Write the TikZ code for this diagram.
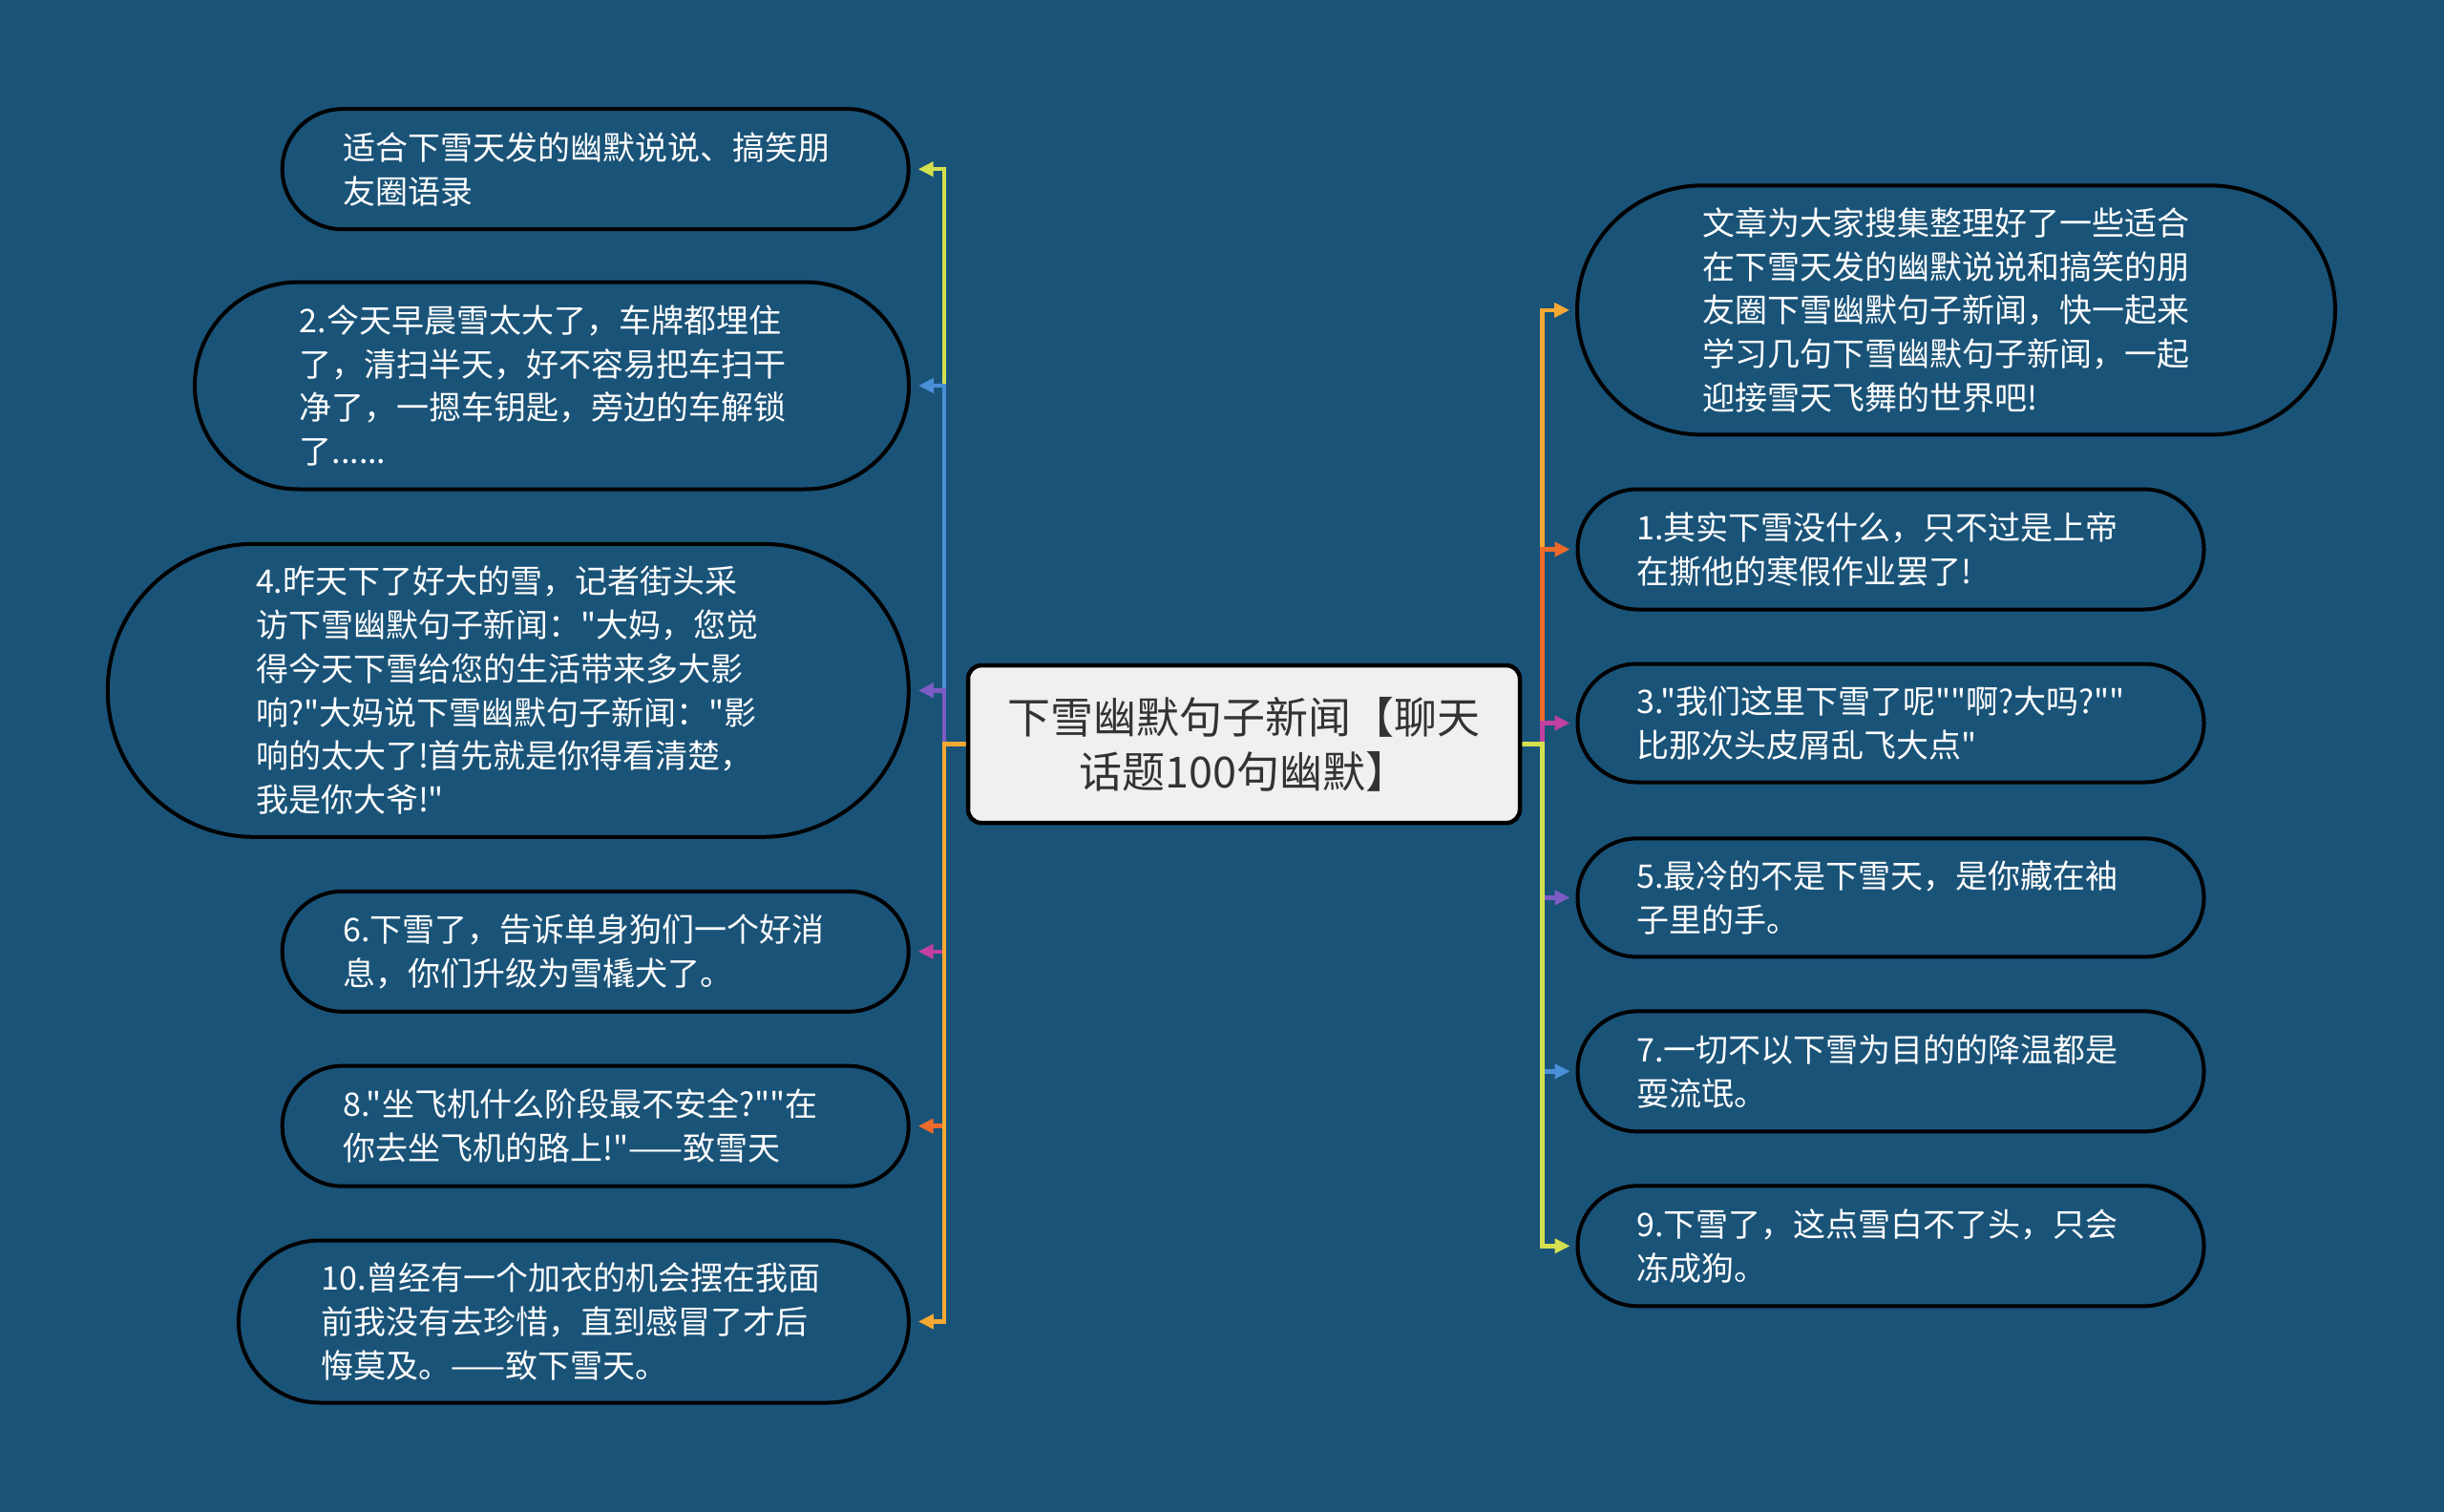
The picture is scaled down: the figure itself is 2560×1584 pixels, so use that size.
\documentclass[tikz,border=0pt]{standalone}
\usepackage{fontspec}
\setmainfont{Noto Sans CJK SC}[Ligatures=TeXOff]
\usetikzlibrary{arrows.meta,backgrounds}
\definecolor{bgc}{HTML}{1A5378}
\definecolor{cYG}{HTML}{D4E04F}
\definecolor{cBlue}{HTML}{4A90D9}
\definecolor{cPurple}{HTML}{7B5CC4}
\definecolor{cMag}{HTML}{C2409F}
\definecolor{cOrRed}{HTML}{EE6A2B}
\definecolor{cOrange}{HTML}{F5A833}
\definecolor{ctrfill}{HTML}{F0F0F0}
\definecolor{ctrtext}{HTML}{333333}
\tikzset{
  leaf/.style={draw=black, line width=4pt, fill=bgc, inner sep=0pt},
  leaftext/.style={text=white, inner sep=0pt, anchor=west, align=left, font=\fontsize{34}{45.7}\selectfont},
  ctrbox/.style={draw=black, line width=4.5pt, fill=ctrfill, rounded corners=14pt, inner sep=0pt, align=center, text=ctrtext, font=\fontsize{45}{57}\selectfont},
  conn/.style={line width=4.5pt, -{Triangle[length=16pt,width=15pt]}},
}
\begin{document}
\begin{tikzpicture}[x=1pt,y=-1pt]
\useasboundingbox (0,0) rectangle (2560,1584);
% center
\node[ctrbox, minimum width=578pt, minimum height=165pt] (ctr) at (1303,779.6) {下雪幽默句子新闻【聊天\\话题100句幽默】};
% left leaves
\node[leaf, minimum width=656pt, minimum height=126pt, rounded corners=62.9pt] (l1) at (623.7,177.2) {};
\node[leaftext] (l1t) at (359,177.2) {适合下雪天发的幽默说说、搞笑朋\\友圈语录};
\node[leaf, minimum width=748pt, minimum height=217pt, rounded corners=108.4pt] (l2) at (578,404) {};
\node[leaftext] (l2t) at (313.5,404) {2.今天早晨雪太大了，车牌都埋住\\了，清扫半天，好不容易把车扫干\\净了，一摁车钥匙，旁边的车解锁\\了......};
\node[leaf, minimum width=839pt, minimum height=307pt, rounded corners=153.4pt] (l3) at (532.3,723.3) {};
\node[leaftext] (l3t) at (267.8,723.3) {4.昨天下了好大的雪，记者街头采\\访下雪幽默句子新闻："大妈，您觉\\得今天下雪给您的生活带来多大影\\响?"大妈说下雪幽默句子新闻："影\\响的太大了!首先就是你得看清楚，\\我是你大爷!"};
\node[leaf, minimum width=656pt, minimum height=126pt, rounded corners=62.9pt] (l4) at (623.7,996.8) {};
\node[leaftext] (l4t) at (359,996.8) {6.下雪了，告诉单身狗们一个好消\\息，你们升级为雪橇犬了。};
\node[leaf, minimum width=656pt, minimum height=126pt, rounded corners=62.9pt] (l5) at (623.7,1179.7) {};
\node[leaftext] (l5t) at (359,1179.7) {8."坐飞机什么阶段最不安全?""在\\你去坐飞机的路上!"——致雪天};
\node[leaf, minimum width=702pt, minimum height=170pt, rounded corners=84.9pt] (l6) at (600.9,1384.5) {};
\node[leaftext] (l6t) at (336.3,1384.5) {10.曾经有一个加衣的机会摆在我面\\前我没有去珍惜，直到感冒了才后\\悔莫及。——致下雪天。};
% right leaves
\node[leaf, minimum width=794pt, minimum height=261pt, rounded corners=130.5pt] (r1) at (2049,324.9) {};
\node[leaftext] (r1t) at (1783,324.9) {文章为大家搜集整理好了一些适合\\在下雪天发的幽默说说和搞笑的朋\\友圈下雪幽默句子新闻，快一起来\\学习几句下雪幽默句子新闻，一起\\迎接雪天飞舞的世界吧!};
\node[leaf, minimum width=656pt, minimum height=126pt, rounded corners=62.9pt] (r2) at (1980.5,575.5) {};
\node[leaftext] (r2t) at (1714.3,575.5) {1.其实下雪没什么，只不过是上帝\\在撕他的寒假作业罢了!};
\node[leaf, minimum width=656pt, minimum height=124pt, rounded corners=61.9pt] (r3) at (1980.5,757.5) {};
\node[leaftext] (r3t) at (1714.3,757.5) {3."我们这里下雪了呢""啊?大吗?""\\比那次头皮屑乱飞大点"};
\node[leaf, minimum width=656pt, minimum height=124pt, rounded corners=61.9pt] (r4) at (1980.5,940.4) {};
\node[leaftext] (r4t) at (1714.3,940.4) {5.最冷的不是下雪天，是你藏在袖\\子里的手。};
\node[leaf, minimum width=656pt, minimum height=126pt, rounded corners=62.9pt] (r5) at (1980.5,1122.4) {};
\node[leaftext] (r5t) at (1714.3,1122.4) {7.一切不以下雪为目的的降温都是\\耍流氓。};
\node[leaf, minimum width=656pt, minimum height=126pt, rounded corners=62.9pt] (r6) at (1980.5,1305.3) {};
\node[leaftext] (r6t) at (1714.3,1305.3) {9.下雪了，这点雪白不了头，只会\\冻成狗。};
% connectors
\begin{scope}[on background layer]
\fill[bgc] (0,0) rectangle (2560,1584);
\draw[conn,cYG]     (ctr.west) -- ([xshift=-23pt]ctr.west) |- ([xshift=8pt]l1.east);
\draw[conn,cBlue]   (ctr.west) -- ([xshift=-23pt]ctr.west) |- ([xshift=8pt]l2.east);
\draw[conn,cPurple] (ctr.west) -- ([xshift=-23pt]ctr.west) |- ([xshift=8pt]l3.east);
\draw[conn,cMag]    (ctr.west) -- ([xshift=-23pt]ctr.west) |- ([xshift=8pt]l4.east);
\draw[conn,cOrRed]  (ctr.west) -- ([xshift=-23pt]ctr.west) |- ([xshift=8pt]l5.east);
\draw[conn,cOrange] (ctr.west) -- ([xshift=-23pt]ctr.west) |- ([xshift=8pt]l6.east);
\draw[conn,cOrange] (ctr.east) -- ([xshift=21pt]ctr.east) |- ([xshift=-6pt]r1.west);
\draw[conn,cOrRed]  (ctr.east) -- ([xshift=21pt]ctr.east) |- ([xshift=-6pt]r2.west);
\draw[conn,cMag]    (ctr.east) -- ([xshift=21pt]ctr.east) |- ([xshift=-6pt]r3.west);
\draw[conn,cPurple] (ctr.east) -- ([xshift=21pt]ctr.east) |- ([xshift=-6pt]r4.west);
\draw[conn,cBlue]   (ctr.east) -- ([xshift=21pt]ctr.east) |- ([xshift=-6pt]r5.west);
\draw[conn,cYG]     (ctr.east) -- ([xshift=21pt]ctr.east) |- ([xshift=-6pt]r6.west);
\end{scope}
\end{tikzpicture}
\end{document}
